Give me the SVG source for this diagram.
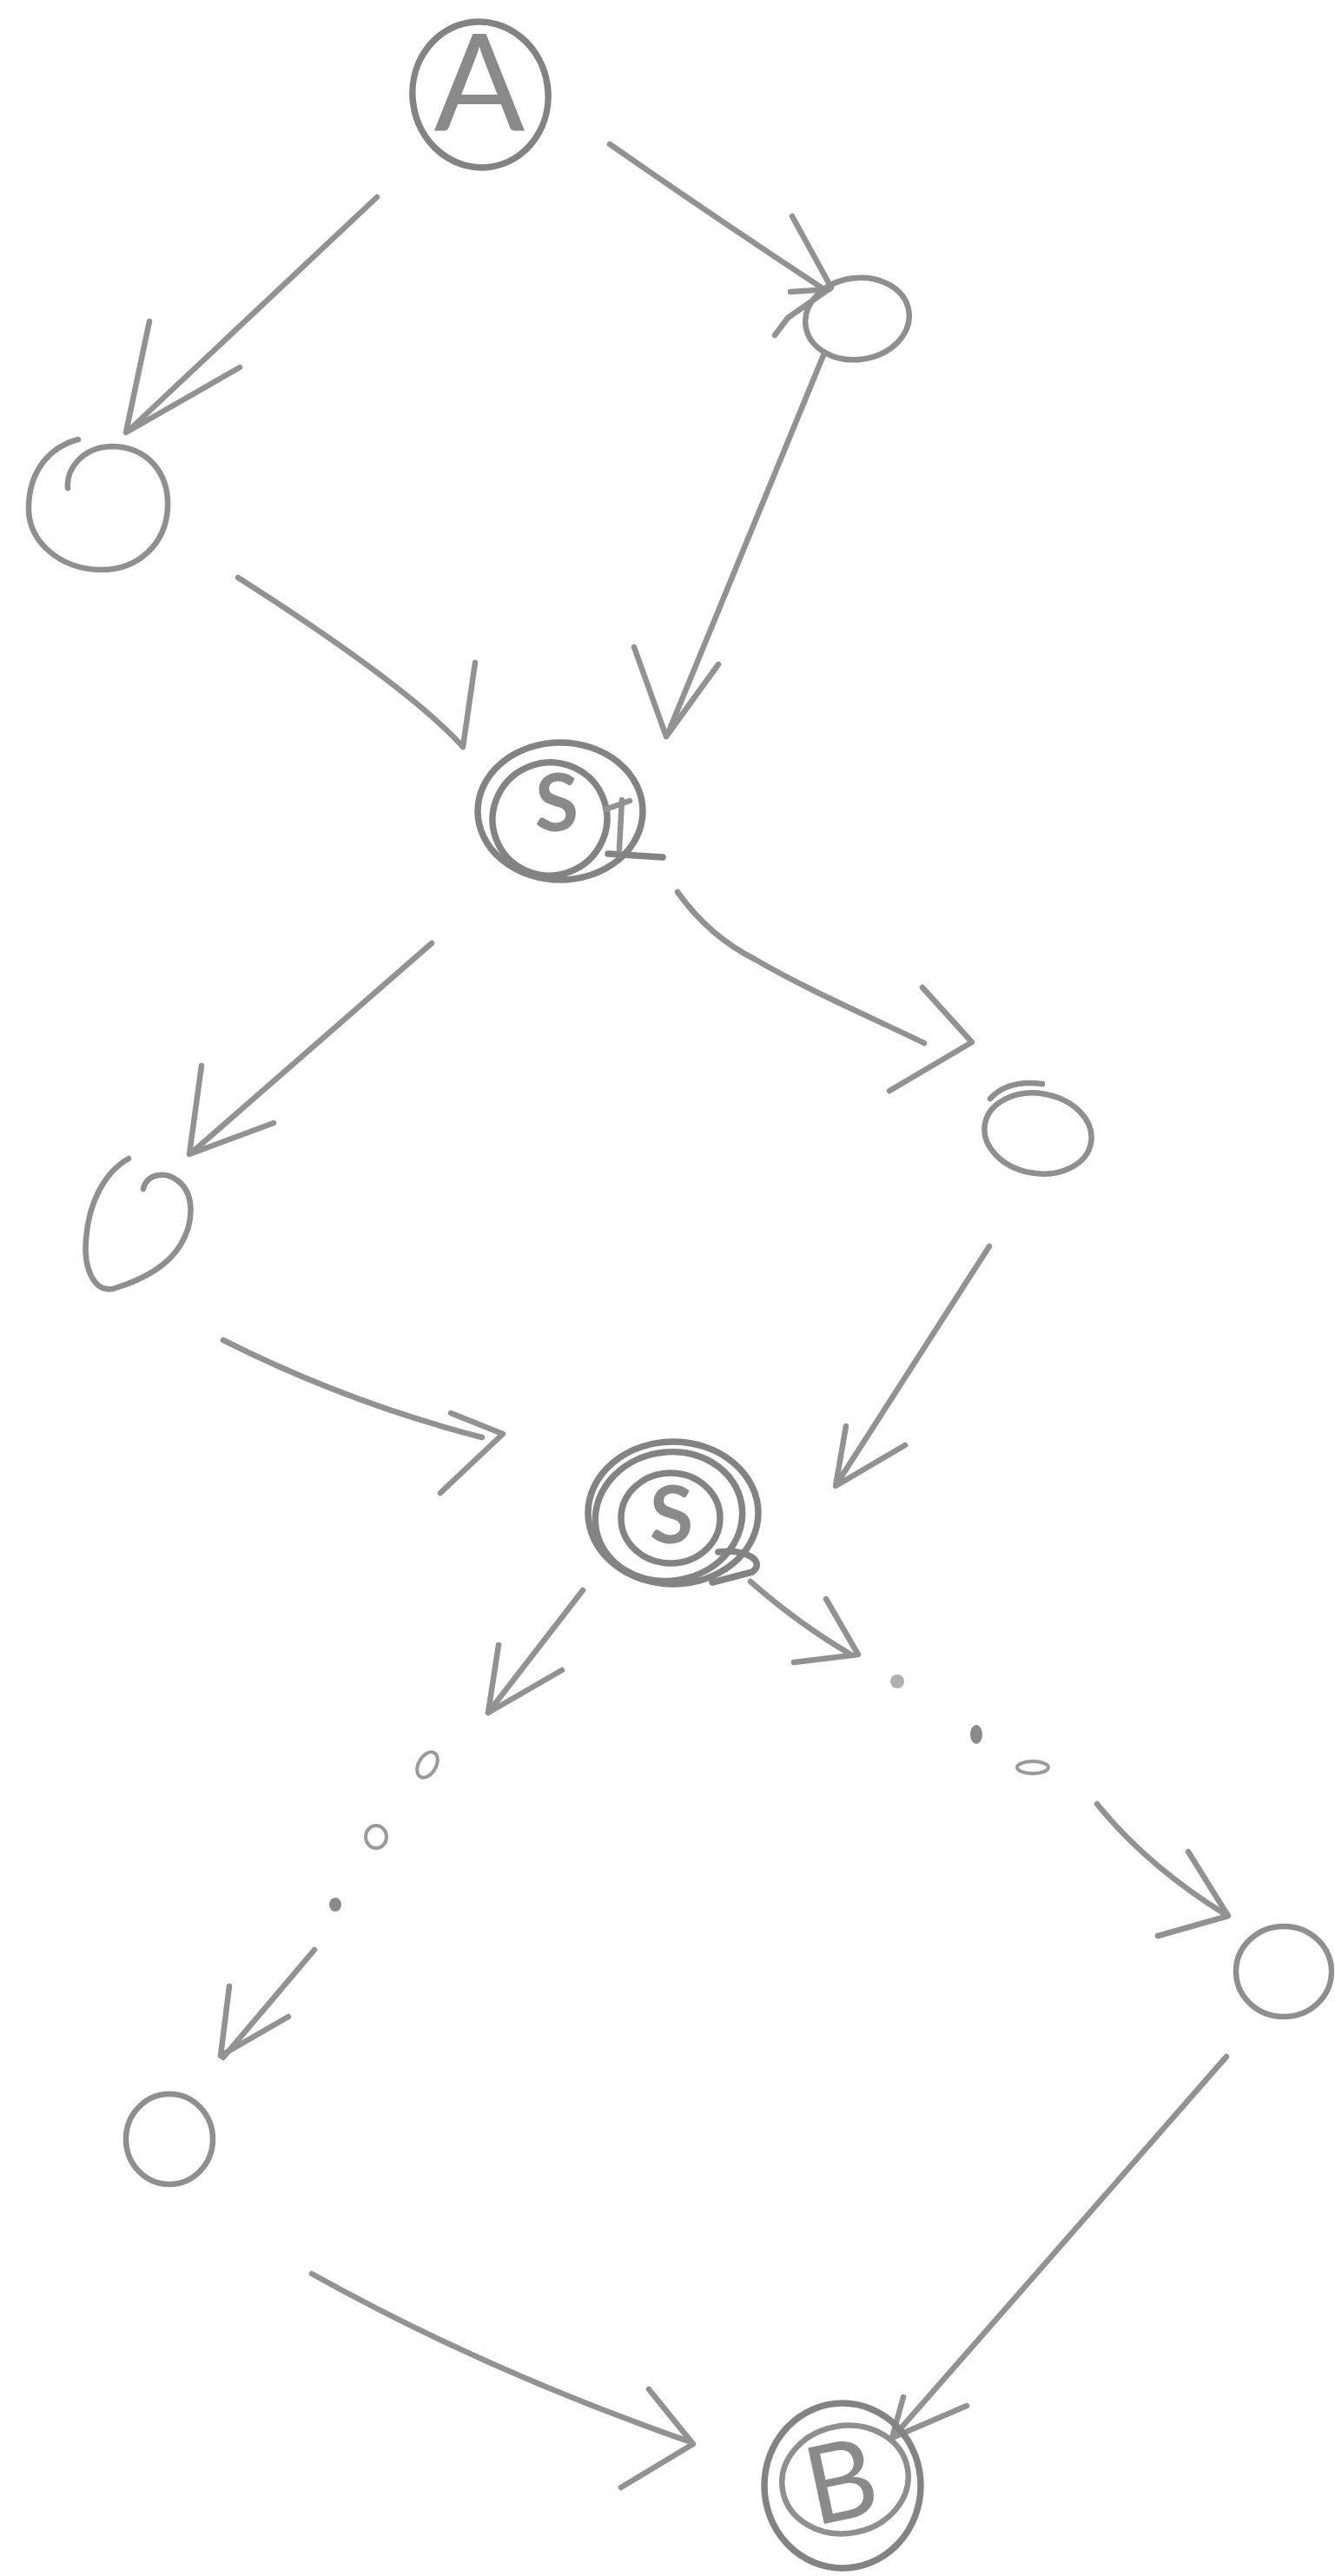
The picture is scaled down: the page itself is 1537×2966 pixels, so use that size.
<svg xmlns="http://www.w3.org/2000/svg" width="1537" height="2966" viewBox="0 0 1537 2966">
<style>
.pen{fill:none;stroke:#929292;stroke-width:6.5;stroke-linecap:round;stroke-linejoin:round}
.node{fill:none;stroke:#8f8f8f;stroke-width:6.5;stroke-linecap:round;stroke-linejoin:round}
.dark{fill:none;stroke:#838383;stroke-width:7.5;stroke-linecap:round;stroke-linejoin:round}
.dot{fill:none;stroke:#9a9a9a;stroke-width:4}
.lbl{font-family:"Lato","Liberation Sans","DejaVu Sans",sans-serif;fill:#8a8a8a;text-anchor:middle}
.thin{font-weight:400}
.bold{font-weight:700}
</style>
<rect width="1537" height="2966" fill="#ffffff"/>

<g id="connectors">
  <!-- A -> left1 -->
  <path class="pen" d="M434,227 L150,494"/>
  <path class="pen" d="M172,370 L145,498 L276,423"/>
  <!-- A -> right1 -->
  <path class="pen" d="M702,166 Q830,255 950,334"/>
  <path class="pen" d="M912,249 L957,331 L907,366 L892,386"/>
  <path class="pen" d="M910,336 L955,333"/>
  <!-- left1 -> S1 -->
  <path class="pen" d="M274,665 Q470,790 533,860 L547,763"/>
  <!-- right1 -> S1 -->
  <path class="pen" d="M948,409 L770,842"/>
  <path class="pen" d="M730,745 L767,848 L827,765"/>
  <!-- S1 -> left2 -->
  <path class="pen" d="M497,1086 L222,1326"/>
  <path class="pen" d="M232,1227 L218,1329 L315,1293"/>
  <!-- S1 -> right2 -->
  <path class="pen" d="M780,1027 C800,1055 830,1085 870,1105 C930,1140 1000,1170 1064,1201"/>
  <path class="pen" d="M1062,1137 L1119,1200 L1024,1256"/>
  <!-- left2 -> S2 -->
  <path class="pen" d="M257,1543 Q400,1615 555,1655"/>
  <path class="pen" d="M519,1627 L579,1651 L507,1719"/>
  <!-- right2 -> S2 -->
  <path class="pen" d="M1139,1435 L965,1706"/>
  <path class="pen" d="M974,1642 L962,1711 L1042,1664"/>
  <!-- S2 -> ... (left branch) -->
  <path class="pen" d="M671,1831 L562,1972"/>
  <path class="pen" d="M574,1894 L562,1972 L647,1923"/>
  <ellipse class="dot" cx="492" cy="2032" rx="10" ry="16" transform="rotate(30 492 2032)"/>
  <ellipse class="dot" cx="433" cy="2115" rx="12" ry="13"/>
  <ellipse cx="386" cy="2193" rx="7" ry="8" fill="#8a8a8a"/>
  <path class="pen" d="M362,2245 L257,2369"/>
  <path class="pen" d="M264,2287 L254,2367 L332,2322"/>
  <!-- S2 -> ... (right branch) -->
  <path class="pen" d="M864,1821 Q920,1870 978,1904"/>
  <path class="pen" d="M951,1841 L988,1905 L914,1914"/>
  <circle cx="1033" cy="1936" r="8" fill="#b0b0b0"/>
  <ellipse cx="1124" cy="1997" rx="7" ry="11" fill="#8a8a8a"/>
  <ellipse class="dot" cx="1189" cy="2035" rx="18" ry="7"/>
  <path class="pen" d="M1263,2077 Q1320,2148 1412,2205"/>
  <path class="pen" d="M1368,2132 L1414,2206 L1333,2229"/>
  <!-- bottom-left -> B -->
  <path class="pen" d="M359,2618 Q560,2730 796,2812"/>
  <path class="pen" d="M747,2751 L798,2814 L715,2864"/>
  <!-- bottom-right -> B -->
  <path class="pen" d="M1412,2368 L1030,2804"/>
  <path class="pen" d="M1040,2760 L1027,2807 L1113,2770"/>
</g>

<g id="node-A">
  <ellipse class="dark" cx="553" cy="109" rx="78" ry="84" transform="rotate(-8 553 109)"/>
  <text class="lbl thin" x="552" y="150" font-size="155">A</text>
</g>

<g id="node-right1">
  <ellipse class="node" cx="987" cy="367" rx="60" ry="47" transform="rotate(-8 987 367)"/>
</g>

<g id="node-left1">
  <path class="node" d="M78,562 C76,540 95,515 128,514 C170,514 195,545 193,585 C191,625 160,657 115,656 C70,655 33,625 33,585 C33,545 55,515 90,506"/>
</g>

<g id="node-S1">
  <ellipse class="dark" cx="645" cy="934" rx="95" ry="79"/>
  <ellipse class="dark" cx="633" cy="943" rx="66" ry="65" transform="rotate(-20 633 943)"/>
  <path class="dark" d="M700,983 L763,987"/>
  <path class="pen" d="M697,932 L725,922 M716,921 L713,978"/>
  <text class="lbl bold" x="641" y="957" font-size="92">S</text>
</g>

<g id="node-left2">
  <path class="node" d="M165,1369 C168,1352 190,1348 204,1359 C226,1375 222,1410 208,1433 C195,1455 170,1472 130,1484 C108,1488 96,1460 99,1427 C102,1385 120,1350 148,1334"/>
</g>

<g id="node-right2">
  <ellipse class="node" cx="1195" cy="1305" rx="62" ry="46" transform="rotate(10 1195 1305)"/>
  <path class="node" d="M1140,1265 Q1160,1243 1200,1248"/>
</g>

<g id="node-S2">
  <ellipse class="dark" cx="775" cy="1742" rx="98" ry="82"/>
  <ellipse class="dark" cx="770" cy="1746" rx="85" ry="74" transform="rotate(-10 770 1746)"/>
  <ellipse class="dark" cx="772" cy="1748" rx="57" ry="52"/>
  <path class="dark" d="M827,1787 C860,1783 882,1798 866,1810 L820,1822"/>
  <text class="lbl bold" x="773" y="1777" font-size="92">S</text>
</g>

<g id="node-bottomleft">
  <ellipse class="node" cx="195" cy="2463" rx="50" ry="52"/>
</g>

<g id="node-bottomright">
  <ellipse class="node" cx="1478" cy="2270" rx="55" ry="52"/>
</g>

<g id="node-B">
  <ellipse class="dark" cx="970" cy="2862" rx="90" ry="95"/>
  <ellipse class="node" cx="973" cy="2855" rx="73" ry="62" transform="rotate(-10 973 2855)"/>
  <text class="lbl thin" x="968" y="2901" font-size="125" transform="rotate(-12 968 2856)">B</text>
</g>
</svg>
